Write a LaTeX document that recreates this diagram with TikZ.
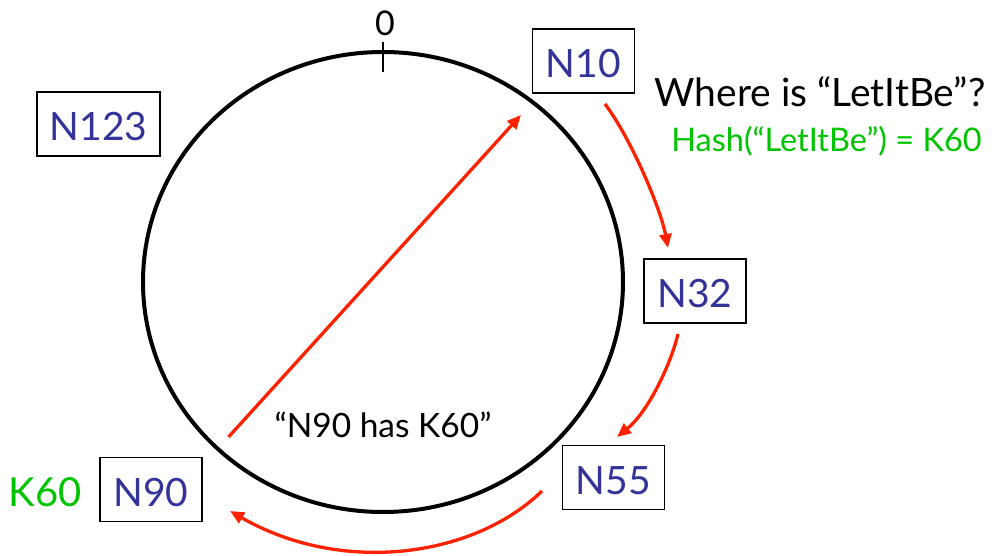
\documentclass[tikz,border=0pt]{standalone}
\usepackage{fontspec}
\setmainfont{Lato}
\usetikzlibrary{arrows.meta}
\definecolor{nodeblue}{HTML}{333399}
\definecolor{keygreen}{HTML}{00C400}
\definecolor{arrred}{HTML}{FF2200}
\begin{document}
\begin{tikzpicture}[x=1pt,y=-1pt,
  nodebox/.style={draw=black, line width=1.6pt, fill=white, text=nodeblue,
    font=\fontsize{39}{39}\selectfont, minimum height=64pt, minimum width=102pt,
    inner sep=0pt, text height=33pt, text depth=0pt},
  hop/.style={draw=arrred, line width=3.3pt, -{Triangle[length=14pt,width=12pt]}},
  plain/.style={inner sep=0pt, anchor=base}
]
\useasboundingbox (0,0) rectangle (997,556);
\draw[line width=4pt] (383,282) ellipse [x radius=240pt, y radius=230pt];
\draw[line width=1.5pt] (383,42) -- (383,72);
\node[plain, font=\fontsize{34}{34}\selectfont] (zero) at (385,36) {0};

\node[nodebox] (N10) at (583.5,61) {N10};
\node[nodebox, minimum width=123pt] (N123) at (98.5,124) {N123};
\node[nodebox] (N32) at (695,291) {N32};
\node[nodebox] (N55) at (613.5,477.5) {N55};
\node[nodebox] (N90) at (151,489.5) {N90};

\node[plain, font=\fontsize{39}{40}\selectfont] (q) at (820,107) {Where is “LetItBe”?};
\node[plain, text=keygreen, font=\fontsize{32.5}{33}\selectfont] (h) at (826.5,152) {Hash(“LetItBe”) = K60};
\node[plain, font=\fontsize{33.5}{35}\selectfont] (msg) at (383,437) {“N90 has K60”};
\node[plain, text=keygreen, font=\fontsize{40}{40}\selectfont] (k60) at (45,506) {K60};

\coordinate (d1) at (228.5,437);
\coordinate (d2) at (521,115);
\draw[hop] (d1) -- (d2);

\coordinate (a1) at (605,104);
\coordinate (b1) at (668,248);
\draw[hop] (a1) .. controls (632,140) and (661,210) .. (b1);

\coordinate (a2) at (678,334);
\coordinate (b2) at (617,437);
\draw[hop] (a2) .. controls (672,360) and (650,410) .. (b2);

\coordinate (a3) at (542,491);
\coordinate (b3) at (230,511);
\draw[hop] (a3) .. controls (473,558) and (341,575) .. (b3);
\end{tikzpicture}
\end{document}
